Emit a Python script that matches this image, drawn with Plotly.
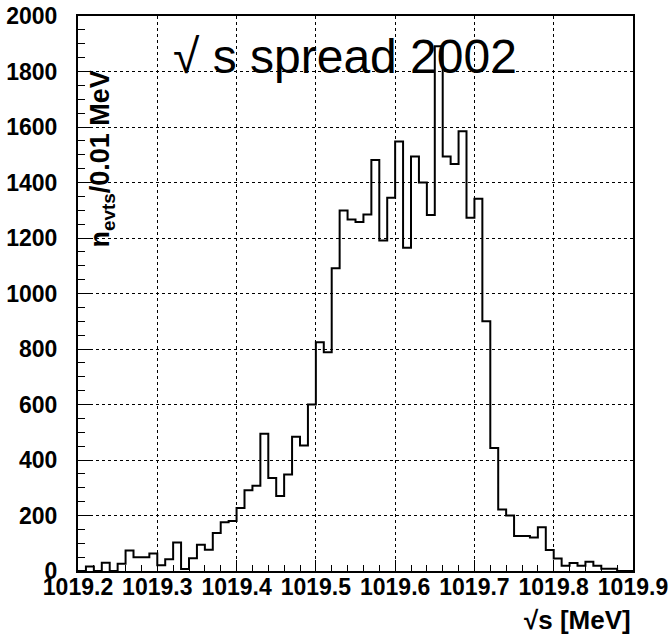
import numpy as np
import plotly.graph_objects as go

# Histogram: sqrt(s) spread 2002, 70 bins of 0.01 MeV from 1019.2 to 1019.9
x_min = 1019.2
bin_width = 0.01
counts = [
    0, 16, 0, 30, 0, 26, 74, 50, 50, 63,
    21, 42, 103, 7, 46, 95, 77, 137, 176, 180,
    227, 291, 307, 495, 335, 270, 348, 484, 452, 600,
    824, 788, 1091, 1299, 1267, 1258, 1285, 1481, 1191, 1345,
    1548, 1165, 1494, 1400, 1283, 1891, 1494, 1467, 1585, 1273,
    1341, 900, 443, 222, 200, 126, 126, 121, 158, 76,
    45, 19, 29, 19, 33, 19, 8, 8, 0, 0,
]
x_tick_vals = [1019.2, 1019.3, 1019.4, 1019.5, 1019.6, 1019.7, 1019.8, 1019.9]
x_tick_text = ["1019.2", "1019.3", "1019.4", "1019.5", "1019.6", "1019.7", "1019.8", "1019.9"]
y_tick_vals = [0, 200, 400, 600, 800, 1000, 1200, 1400, 1600, 1800, 2000]
y_tick_text = [str(v) for v in y_tick_vals]

n = len(counts)
edges = [round(x_min + i * bin_width, 4) for i in range(n + 1)]
step_y = counts + [counts[-1]]

fig = go.Figure()
fig.add_trace(go.Scatter(
    x=edges, y=step_y, mode="lines", line=dict(shape="hv", color="black", width=2),
    hoverinfo="skip", showlegend=False,
))

tickfont = dict(family="Liberation Sans", size=23, color="black", weight="bold")

fig.update_layout(
    width=672, height=634,
    margin=dict(l=78, r=39, t=16, b=63),
    paper_bgcolor="white", plot_bgcolor="white",
    xaxis=dict(
        range=[1019.2, 1019.9], tickmode="array", tickvals=x_tick_vals, ticktext=x_tick_text,
        ticks="inside", ticklen=11, tickwidth=1, tickcolor="black",
        minor=dict(ticks="inside", dtick=0.02, ticklen=6, tickwidth=1, tickcolor="black", showgrid=False),
        showgrid=True, gridcolor="black", griddash="dot", gridwidth=1,
        showline=True, linecolor="black", linewidth=2, mirror=True,
        zeroline=False, tickfont=tickfont, ticklabelstandoff=-6, automargin=False,
        ticklabeloverflow="allow",
    ),
    yaxis=dict(
        range=[0, 2000], tickmode="array", tickvals=y_tick_vals, ticktext=y_tick_text,
        ticks="inside", ticklen=14, tickwidth=1, tickcolor="black",
        minor=dict(ticks="inside", dtick=50, ticklen=7, tickwidth=1, tickcolor="black", showgrid=False),
        showgrid=True, gridcolor="black", griddash="dot", gridwidth=1,
        showline=True, linecolor="black", linewidth=2, mirror=True,
        zeroline=False, tickfont=tickfont, ticklabelstandoff=14, automargin=False,
        ticklabeloverflow="allow",
    ),
    annotations=[
        dict(text="\u221a s spread 2002", x=0.167, y=0.927, xref="paper", yref="paper",
             xanchor="left", yanchor="middle", showarrow=False,
             font=dict(family="Liberation Sans", size=48, color="black")),
        dict(text="n<sub>evts</sub>/0.01 MeV", x=0.044, y=0.742, xref="paper", yref="paper",
             xanchor="center", yanchor="middle", textangle=-90, showarrow=False,
             font=dict(family="Liberation Sans", size=27, color="black", weight="bold")),
        dict(text="\u221as [MeV]", x=1.0, y=-0.058, xref="paper", yref="paper",
             xanchor="right", yanchor="top", showarrow=False,
             font=dict(family="Liberation Sans", size=26, color="black", weight="bold")),
    ],
)

# remove the default page margin so the 672x634 figure fills the window exactly
fig.write_html("out.html", config={"displayModeBar": False},
               post_script="document.body.style.margin='0';")
